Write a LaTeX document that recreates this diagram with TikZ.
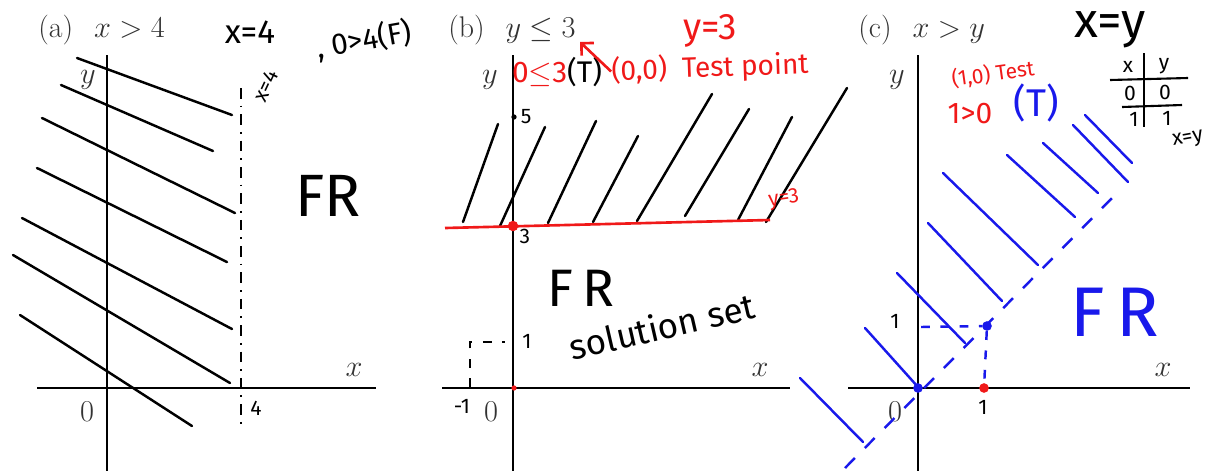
\documentclass[tikz,border=0pt]{standalone}
\usepackage{fontspec}
\newfontfamily\hand{Fira Sans}
\usetikzlibrary{arrows.meta, positioning}
\definecolor{penred}{RGB}{240,25,25}
\definecolor{penblue}{RGB}{25,25,235}

\begin{document}
\begin{tikzpicture}[x=0.02cm, y=-0.02cm]
\tikzstyle{axis} = [line width=0.6pt]
\tikzstyle{hatch} = [line width=1.4pt, line cap=round]
\tikzstyle{lbl} = [inner sep=0pt, text=black!80, font=\fontsize{16}{18}\selectfont]
\tikzstyle{paneltitle} = [inner sep=0pt, anchor=west, text=black!80, font=\fontsize{17}{20}\selectfont]
\tikzstyle{hw} = [inner sep=0pt, font=\hand\fontsize{17}{19}\selectfont]
\tikzstyle{hwsmall} = [hw, font=\hand\fontsize{12}{14}\selectfont]
\tikzstyle{big} = [inner sep=0pt, font=\hand\fontsize{34}{36}\selectfont]
\tikzstyle{dot} = [circle, fill, inner sep=0pt, minimum size=5.5pt]
\tikzstyle{dashdot} = [line width=1.3pt, dash pattern=on 6pt off 4pt on 1pt off 4pt]
\tikzstyle{bdash} = [penblue, line width=1.4pt, dash pattern=on 8pt off 8pt]
\useasboundingbox (0,0) rectangle (1216,471);

% (a) x > 4
\draw[axis] (37,388) -- (376,388);
\draw[axis] (107,55) -- (107,471);
\node[paneltitle] (tita) at (38,30) {(a)\hspace{0.7em}$x>4$};
\node[lbl] (ya) at (88,80) {$y$};
\node[lbl] (xa) at (354,370) {$x$};
\node[lbl] (oa) at (87,412) {$0$};
\foreach \xa/\ya/\xb/\yb in {77/58/232/115, 61/85/213/151, 42/118/235/213, 37/168/227/262,
                             22/218/232/329, 13/255/230/383, 20/315/192/426}
  \draw[hatch] (\xa,\ya) -- (\xb,\yb);
\coordinate (vtop) at (241,88);
\coordinate (vbot) at (241,430);
\draw[dashdot] (vtop) -- (vbot);
\node[hwsmall, rotate=65] (lna) at (266,86) {x=4};
\node[hwsmall] (foura) at (256,408) {4};
\node[hw, font=\hand\fontsize{19}{21}\selectfont] (eqa) at (250,32) {x=4};
\node[hw, rotate=10] (testa) at (364,40) {, 0>4(F)};
\node[big] (fra) at (328,196) {FR};

% (b) y <= 3
\draw[axis] (442,388) -- (790,388);
\draw[axis] (513,55) -- (513,471);
\node[paneltitle] (titb) at (448,30) {(b)\hspace{0.7em}$y\leq 3$};
\node[lbl] (yb) at (490,80) {$y$};
\node[lbl] (xb) at (760,370) {$x$};
\node[lbl] (ob) at (491,412) {$0$};
\foreach \xa/\ya/\xb/\yb in {463/222/498/124, 500/226/545/127, 548/223/596/121, 593/222/638/136,
                             637/221/712/94, 685/216/749/109, 738/220/792/117, 766/222/847/88}
  \draw[hatch] (\xa,\ya) -- (\xb,\yb);
\coordinate (bl) at (445,228);
\coordinate (br) at (770,220);
\draw[penred, line width=1.5pt] (bl) -- (br);
\node[dot, penred, minimum size=6pt] (p3) at (513,226) {};
\node[dot, penred, minimum size=3pt] (ob0) at (514,388) {};
\node[dot, minimum size=3pt] (p5) at (514,117) {};
\node[hwsmall, right=2pt of p5] (five) {5};
\node[hwsmall] (three) at (525,236) {3};
\node[hwsmall, penred, rotate=8] (lnb) at (784,199) {y=3};
\node[hw, penred, font=\hand\fontsize{21}{23}\selectfont] (eqb) at (710,31) {y=3};
\node[hw] (testb) at (557,72) {{\color{penred}0$\leq$3}(T)};
\node[hw, penred, font=\hand\fontsize{16}{18}\selectfont, rotate=2] (tp) at (710,68) {(0,0)\ \ Test point};
\coordinate (tip) at (580,42);
\draw[penred, line width=1.5pt, -{Straight Barb[length=5pt]}] (tp.west) -- (tip);
\node[big, font=\hand\fontsize{30}{32}\selectfont] (frb) at (581,288) {F\,R};
\node[hw, font=\hand\fontsize{20}{22}\selectfont, rotate=13] (sol) at (662,326) {solution set};
\node[hwsmall] (oneb) at (527,341) {1};
\node[hwsmall] (moneb) at (462,406) {-1};
\coordinate (d1) at (470,387);
\coordinate (d2) at (470,342);
\coordinate (d3) at (505,342);
\draw[line width=1.3pt, dash pattern=on 5pt off 6pt] (d1) -- (d2) -- (d3);

% (c) x > y
\draw[axis] (848,388) -- (1190,388);
\draw[axis] (918,55) -- (918,471);
\node[paneltitle] (titc) at (858,30) {(c)\hspace{0.7em}$x>y$};
\node[lbl] (yc) at (897,80) {$y$};
\node[lbl] (xc) at (1163,370) {$x$};
\node[lbl] (oc) at (895,412) {$0$};
\node[hw, font=\hand\fontsize{28}{30}\selectfont] (eqc) at (1110,30) {x=y};
\draw[line width=1.2pt] (1144,53) -- (1144,127);
\draw[line width=1.2pt] (1110,80) -- (1188,78);
\draw[line width=1.2pt] (1122,107) -- (1182,105);
\node[hwsmall] (tx) at (1128,67) {x};
\node[hwsmall] (ty) at (1164,66) {y};
\node[hwsmall] (t00) at (1130,93) {0};
\node[hwsmall] (t01) at (1165,92) {0};
\node[hwsmall] (t10) at (1134,119) {1};
\node[hwsmall] (t11) at (1167,118) {1};
\node[hwsmall, rotate=10] (lnc) at (1188,140) {x=y};
\node[hwsmall, penred, rotate=8] (testc) at (993,74) {(1,0) Test};
\node[hw, penred] (gtc) at (970,114) {1>0};
\node[hw, penblue, font=\hand\fontsize{22}{24}\selectfont] (tc) at (1036,103) {(T)};
\foreach \xa/\ya/\xb/\yb in {1085/115/1132/163, 1073/125/1128/182, 1043/143/1098/193,
                             1007/155/1075/217, 943/173/1038/265, 928/223/1002/301,
                             897/273/965/343, 865/328/918/387, 800/378/863/442}
  \draw[hatch, penblue] (\xa,\ya) -- (\xb,\yb);
\coordinate (e1) at (845,468);
\coordinate (e2) at (1120,190);
\draw[bdash] (e1) -- (e2);
\node[dot, penblue] (p00) at (918,388) {};
\node[dot, penblue] (p11) at (987,326) {};
\node[dot, penred] (p10) at (984,388) {};
\coordinate (y1) at (921,327);
\draw[bdash, dash pattern=on 5pt off 6pt] (y1) -- (p11) -- (p10);
\node[hwsmall] (onecy) at (895,321) {1};
\node[hwsmall] (onecx) at (983,407) {1};
\node[big, penblue, font=\hand\fontsize{40}{42}\selectfont] (frc) at (1115,312) {F\,R};
\end{tikzpicture}
\end{document}
